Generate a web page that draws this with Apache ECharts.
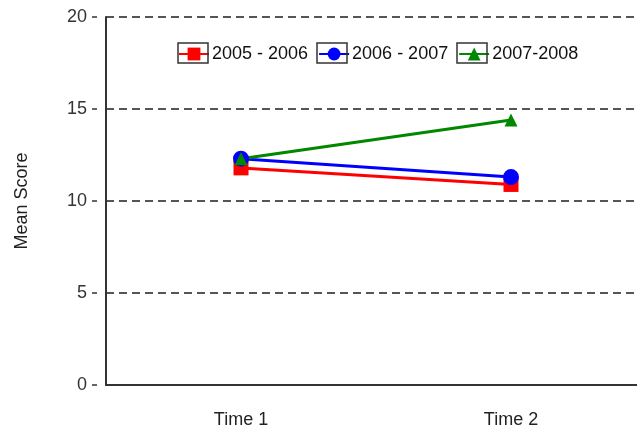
<!DOCTYPE html>
<html><head><meta charset="utf-8">
<script src="https://cdn.jsdelivr.net/npm/echarts@6/dist/echarts.min.js"></script>
<style>html,body{margin:0;padding:0;background:#fff}#c{width:637px;height:432px}</style>
</head><body><div id="c"></div>
<script>
const categories = ['Time 1', 'Time 2'];
const seriesNames = ['2005 - 2006', '2006 - 2007', '2007-2008'];
const s2005 = [11.8, 10.9];
const s2006 = [12.3, 11.3];
const s2007 = [12.3, 14.4];
const yTicks = [0, 5, 10, 15, 20];

const chart = echarts.init(document.getElementById('c'));
const font = 'Liberation Sans, Arial, sans-serif';
function mk(name, data, color, symbol, size) {
  return {
    name, type: 'line', data, symbol, symbolSize: size,
    lineStyle: { color, width: 3 }, itemStyle: { color },
    emphasis: { disabled: true }, animation: false
  };
}
chart.setOption({
  animation: false,
  backgroundColor: '#fff',
  textStyle: { fontFamily: font },
  grid: { left: 106, width: 540, top: 17, bottom: 47, outerBoundsMode: 'none', containLabel: false },
  legend: {
    top: 45, left: 178, padding: 0, itemGap: 10, itemWidth: 30, itemHeight: 16,
    textStyle: { fontSize: 18, color: '#111', fontFamily: font, padding: [0, 0, 0, -2] },
    data: seriesNames
  },
  graphic: [
    { type: 'rect', shape: { x: 178, y: 43, width: 30, height: 20 }, style: { fill: 'none', stroke: '#333', lineWidth: 1.5 }, z: 100 },
    { type: 'rect', shape: { x: 317, y: 43, width: 30, height: 20 }, style: { fill: 'none', stroke: '#333', lineWidth: 1.5 }, z: 100 },
    { type: 'rect', shape: { x: 457, y: 43, width: 30, height: 20 }, style: { fill: 'none', stroke: '#333', lineWidth: 1.5 }, z: 100 }
  ],
  xAxis: {
    type: 'category', data: categories, boundaryGap: true,
    axisLine: { lineStyle: { color: '#333', width: 2 } },
    axisTick: { show: false },
    axisLabel: { fontSize: 18, color: '#222', margin: 26, fontFamily: font },
    splitLine: { show: false }
  },
  yAxis: {
    type: 'value', min: yTicks[0], max: yTicks[yTicks.length - 1], interval: 5,
    name: 'Mean Score', nameLocation: 'middle', nameGap: 75, nameRotate: 90,
    nameTextStyle: { fontSize: 18, color: '#222', fontFamily: font },
    axisLine: { show: true, lineStyle: { color: '#333', width: 2 } },
    axisTick: { show: true, length: 14, lineStyle: { color: '#666', width: 2, type: [5, 9], dashOffset: 5 } },
    axisLabel: { fontSize: 18, color: '#333', margin: 19, fontFamily: font },
    splitLine: { show: true, lineStyle: { color: '#555', width: 2, type: [8, 5] } }
  },
  series: [
    mk(seriesNames[0], s2005, '#ff0000', 'rect', 15),
    mk(seriesNames[1], s2006, '#0000ff', 'circle', 16),
    mk(seriesNames[2], s2007, '#008800', 'triangle', 13)
  ]
});
</script></body></html>
